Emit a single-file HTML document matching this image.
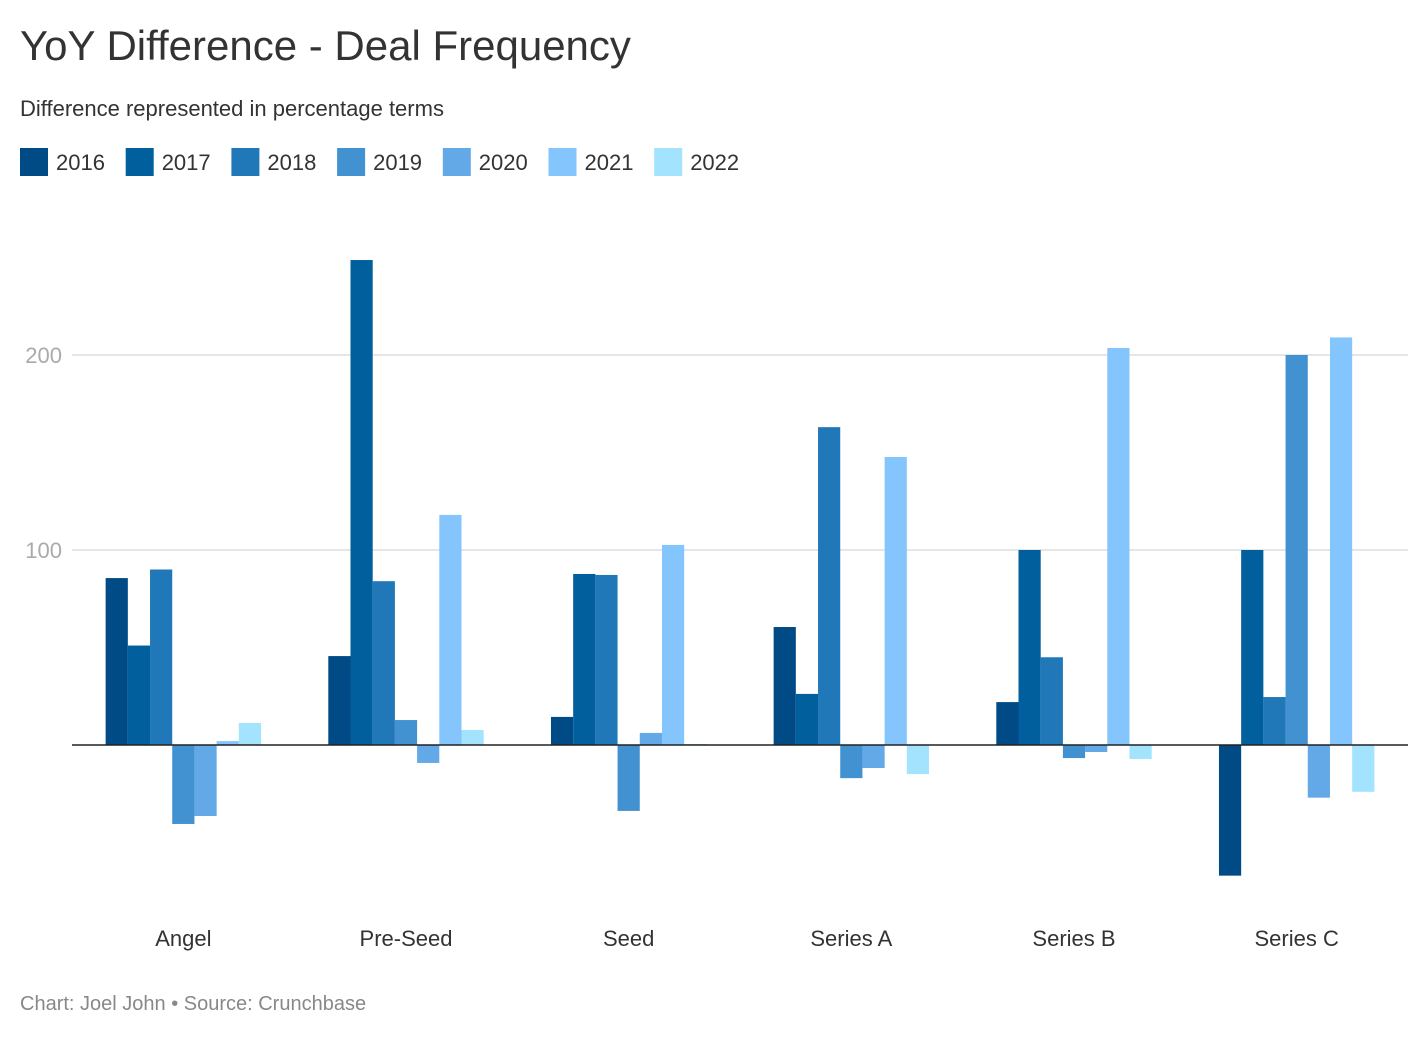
<!DOCTYPE html>
<html><head><meta charset="utf-8"><style>
body{margin:0;background:#fff;font-family:"Liberation Sans",Arial,sans-serif;}
</style></head><body>
<svg width="1428" height="1036" xmlns="http://www.w3.org/2000/svg" font-family="Liberation Sans, Arial, sans-serif">
<text x="20" y="60" font-size="42" fill="#333">YoY Difference - Deal Frequency</text>
<text x="20" y="116" font-size="22" fill="#333">Difference represented in percentage terms</text>
<g id="legend"></g>
<g id="grid"></g>
<g id="bars"></g>
<g id="xlabels"></g>
<text x="20" y="1010" font-size="20" fill="#888">Chart: Joel John • Source: Crunchbase</text>
</svg>
<script>
const categories=["Angel","Pre-Seed","Seed","Series A","Series B","Series C"];
const years=["2016","2017","2018","2019","2020","2021","2022"];
const s2016=[85.6,45.6,14.4,60.5,22,-67];
const s2017=[51,248.7,87.7,26.2,100,100];
const s2018=[90,84,87.2,163,45,24.6];
const s2019=[-40.5,12.8,-33.8,-17,-6.7,200];
const s2020=[-36.4,-9.2,6.2,-11.8,-3.6,-27];
const s2021=[2,118,102.6,147.7,203.6,209];
const s2022=[11.3,7.7,0.5,-14.9,-7.2,-24];
const yTicks=[100,200];
const series=[s2016,s2017,s2018,s2019,s2020,s2021,s2022];
const colors=["#004a85","#005f9c","#2178b8","#4291d0","#63a9e8","#83c5fc","#a3e3fd"];
const NS="http://www.w3.org/2000/svg";
const L=72,R=1408,zeroY=745,ppu=1.95,bw=22.2;
const y=v=>zeroY-v*ppu;
const gw=(R-L)/categories.length;
const cx=i=>L+gw*(i+0.5);
function mk(t,a,p){const e=document.createElementNS(NS,t);for(const k in a)e.setAttribute(k,a[k]);p.appendChild(e);return e;}
const leg=document.getElementById('legend');
let lx=20;
years.forEach((yr,i)=>{
 const g=mk('g',{},leg);
 
 
 mk('rect',{x:lx,y:148,width:28,height:28,fill:colors[i]},g);
 const t=mk('text',{x:lx+36,y:170,'font-size':22,fill:'#333'},g);t.textContent=yr;
 lx+=105.7;
});
const grid=document.getElementById('grid');
yTicks.forEach(v=>{
 const l=mk('line',{x1:L,x2:R,y1:y(v),y2:y(v),stroke:'#ddd','stroke-width':1.5},grid);
 
 
 const t=mk('text',{x:L-10,y:y(v)+8,'font-size':22,fill:'#aaa','text-anchor':'end'},grid);
 
 
 t.textContent=v;
});
const bars=document.getElementById('bars');
categories.forEach((c,i)=>{
 const x0=cx(i)-bw*series.length/2;
 series.forEach((s,j)=>{
  const v=s[i];
  const r=mk('rect',{x:x0+j*bw,y:Math.min(y(v),zeroY),width:bw,height:Math.abs(v*ppu),fill:colors[j]},bars);
  
  
 });
 const t=mk('text',{x:cx(i),y:946,'font-size':22,fill:'#333','text-anchor':'middle'},document.getElementById('xlabels'));
 
 
 t.textContent=c;
});
const z=mk('line',{x1:L,x2:R,y1:zeroY,y2:zeroY,stroke:'#222','stroke-width':1.5},bars);


</script>
</body></html>
